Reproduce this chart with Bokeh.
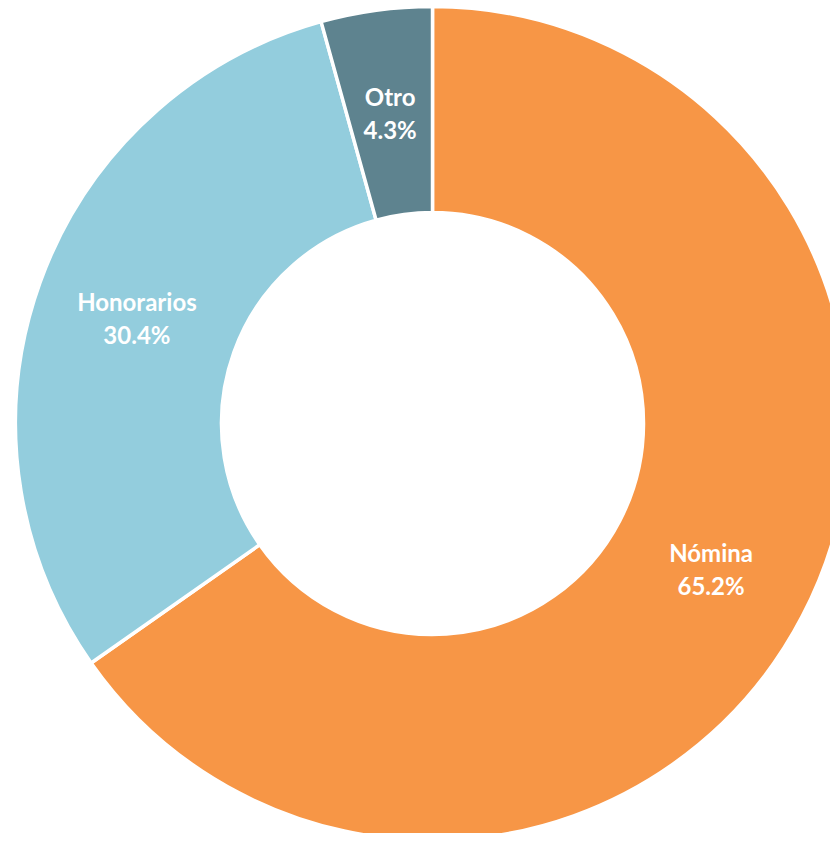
import math
from bokeh.plotting import figure
from bokeh.models import ColumnDataSource
from bokeh.core.properties import value
from bokeh.embed import file_html
from bokeh.resources import INLINE

categories = ["Nómina", "Honorarios", "Otro"]
shares = [65.2, 30.4, 4.3]
colors = ["#F79646", "#93CDDD", "#5E838F"]

W, H = 830, 833
CX, CY = 432, 423          # centre in figure pixels (from top-left)
R_OUT, R_IN = 417, 211

total = sum(shares)
starts, ends, lx, ly, names, pcts = [], [], [], [], [], []
ang = math.pi / 2
r_mid = (R_OUT + R_IN) / 2
for c, s in zip(categories, shares):
    span = 2 * math.pi * s / total
    starts.append(ang - span)
    ends.append(ang)
    mid = ang - span / 2
    lx.append(r_mid * math.cos(mid))
    ly.append(r_mid * math.sin(mid))
    names.append(c)
    pcts.append(f"{s:.1f}%")
    ang -= span

src = ColumnDataSource(dict(start=starts, end=ends, color=colors,
                            x=lx, y=ly, name=names, pct=pcts))

p = figure(width=W, height=H, x_range=(-CX, W - CX), y_range=(-(H - CY), CY),
           output_backend="svg", toolbar_location=None, min_border=0,
           match_aspect=False)
p.axis.visible = False
p.grid.visible = False
p.outline_line_color = None
p.background_fill_color = "white"

p.annular_wedge(x=0, y=0, inner_radius=R_IN, outer_radius=R_OUT,
                start_angle="start", end_angle="end", fill_color="color",
                line_color="white", line_width=3.5, source=src)

p.text(x="x", y="y", text="name", source=src, text_color="white",
       text_font=value("Lato"), text_font_style="bold", text_font_size="24px",
       text_align="center", text_baseline="middle", y_offset=-16)
p.text(x="x", y="y", text="pct", source=src, text_color="white",
       text_font=value("Lato"), text_font_style="bold", text_font_size="24px",
       text_align="center", text_baseline="middle", y_offset=17)

open("out.html", "w").write(file_html(p, INLINE))
